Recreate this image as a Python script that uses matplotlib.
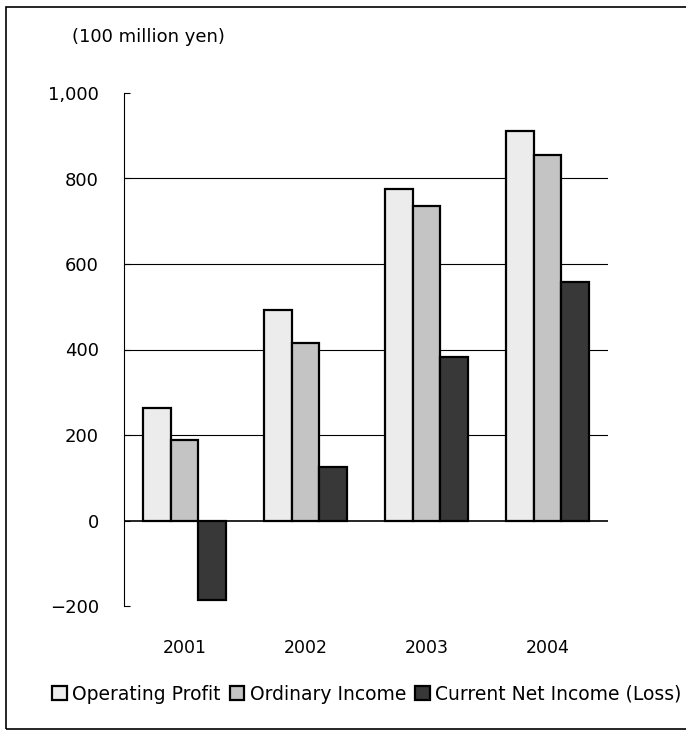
import matplotlib
matplotlib.use("Agg")
import matplotlib.pyplot as plt
from matplotlib.patches import Rectangle
import numpy as np

years = ["2001", "2002", "2003", "2004"]
operating_profit = [264, 493, 776, 911]
ordinary_income = [189, 416, 736, 855]
net_income = [-185, 126, 383, 558]
series_names = ["Operating Profit", "Ordinary Income", "Current Net Income (Loss)"]
series_colors = ["#ececec", "#c4c4c4", "#383838"]
y_ticks = [-200, 0, 200, 400, 600, 800, 1000]
y_tick_labels = ["\u2212200", "0", "200", "400", "600", "800", "1,000"]

plt.rcParams["font.family"] = ["DejaVu Sans"]

fig = plt.figure(figsize=(6.86, 7.30), dpi=100)
ax = fig.add_axes([124 / 686, 1 - 606 / 730, 484 / 686, 513 / 730])

x = np.arange(len(years))
w = 0.229
handles = []
for i, (vals, name, col) in enumerate(zip([operating_profit, ordinary_income, net_income],
                                          series_names, series_colors)):
    b = ax.bar(x + (i - 1) * w, vals, width=w, color=col, edgecolor="black",
               linewidth=1.6, label=name, zorder=3)
    handles.append(b)

ax.set_xlim(-0.5, 3.5)
ax.set_ylim(-200, 1000)
ax.set_yticks(y_ticks)
ax.set_yticklabels(y_tick_labels, fontsize=13)
ax.set_xticks(x)
ax.set_xticklabels(years, fontsize=12.5)
ax.tick_params(axis="y", direction="in", length=4, width=0.8, pad=18)
ax.tick_params(axis="x", length=0, pad=24)

for v in [200, 400, 600, 800]:
    ax.axhline(v, color="black", linewidth=0.8, zorder=1)
ax.axhline(0, color="black", linewidth=1.2, zorder=4)

for s in ["top", "right", "bottom"]:
    ax.spines[s].set_visible(False)
ax.spines["left"].set_linewidth(0.8)

fig.text(72 / 686, 1 - 37 / 730, "(100 million yen)", fontsize=13, va="center", ha="left")

leg = fig.legend(handles=handles, labels=series_names, loc="center",
                 bbox_to_anchor=(367 / 686, 1 - 694 / 730), ncol=3, frameon=False,
                 fontsize=13.5, handlelength=0.75, handleheight=0.75, handletextpad=0.3,
                 columnspacing=0.5, borderaxespad=0)

fig.patches.append(Rectangle((6 / 686, 1 / 730), 1.0, 722 / 730, transform=fig.transFigure,
                             fill=False, edgecolor="black", linewidth=1.2))

fig.savefig("out.png", dpi=100)
